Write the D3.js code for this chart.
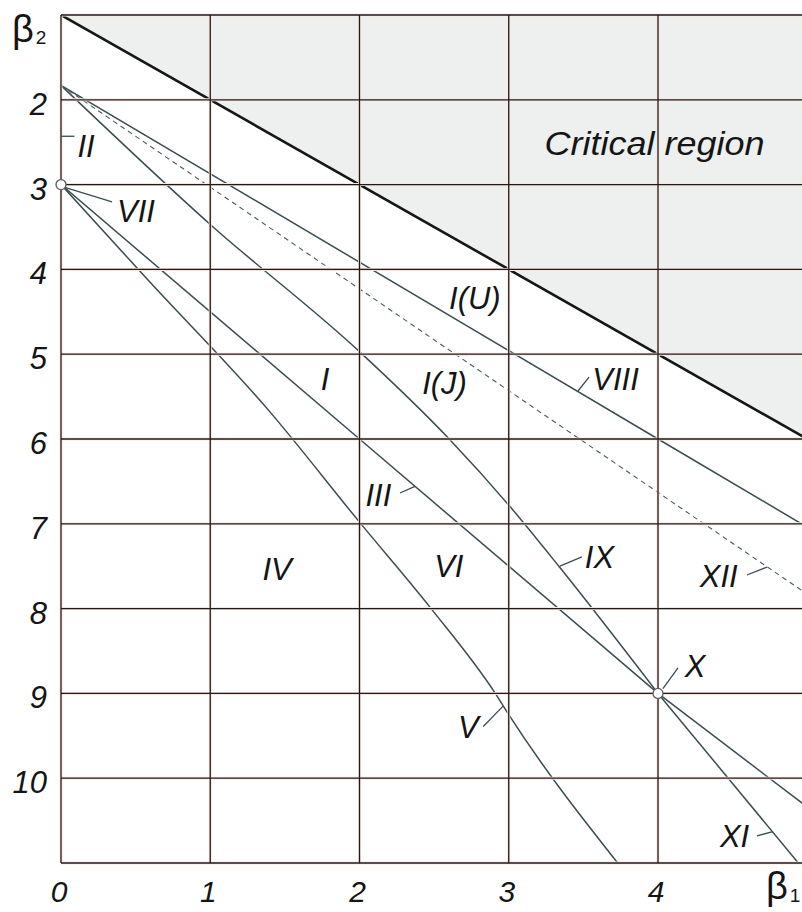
<!DOCTYPE html>
<html><head><meta charset="utf-8">
<script src="https://cdn.jsdelivr.net/npm/d3@7"></script>
<style>
html,body{margin:0;padding:0;background:#fff;}
svg{display:block;}
text{font-family:"Liberation Sans",Arial,sans-serif;}
</style></head>
<body>
<svg id="chart" width="802" height="912"></svg>
<script>
// ---- data (beta1, beta2) ----
const xTicks = [0, 1, 2, 3, 4];
const yTicks = [2, 3, 4, 5, 6, 7, 8, 9, 10];
const criticalLine = [[0, 1], [5, 6]];
const lineIII = [[0, 3], [2, 6], [4, 9], [5, 10.34]];
const lineV = [[0, 3], [0.58, 4.12], [1.4, 5.68], [2, 6.98], [2.48, 8], [2.91, 9], [3, 9.25], [3.73, 11]];
const lineVIII = [[0, 1.83], [4, 6], [5, 7.04]];
const lineXII = [[0, 1.83], [3, 5.43], [4, 6.63], [5, 7.83]];
const lineIX = [[0, 1.83], [1, 3.47], [2, 4.97], [2.59, 5.98], [3.01, 6.8], [3.34, 7.51], [4, 9]];
const lineXI = [[4, 9], [4.94, 11]];
const points = [[0, 3], [4, 9]];
const labels = [
  {t: "II", x: 0.11, y: 2.67},
  {t: "VII", x: 0.375, y: 3.44},
  {t: "I(U)", x: 2.60, y: 4.47},
  {t: "I", x: 1.74, y: 5.42},
  {t: "I(J)", x: 2.42, y: 5.47},
  {t: "III", x: 2.04, y: 6.79},
  {t: "IV", x: 1.35, y: 7.66},
  {t: "VI", x: 2.50, y: 7.63},
  {t: "VIII", x: 3.56, y: 5.42},
  {t: "IX", x: 3.51, y: 7.52},
  {t: "XII", x: 4.28, y: 7.745},
  {t: "X", x: 4.18, y: 8.81},
  {t: "XI", x: 4.415, y: 10.81},
  {t: "V", x: 2.66, y: 9.53}
];
const leaders = [
  [[0.0, 2.43], [0.09, 2.43]],
  [[0.02, 3.03], [0.342, 3.205]],
  [[2.271, 6.637], [2.372, 6.558]],
  [[3.464, 5.434], [3.538, 5.27]],
  [[3.343, 7.50], [3.49, 7.39]],
  [[4.596, 7.604], [4.73, 7.51]],
  [[4.033, 8.943], [4.134, 8.70]],
  [[4.663, 10.68], [4.77, 10.63]],
  [[2.829, 9.39], [2.962, 9.15]]
];

const W = 802, H = 912;
const x = d3.scaleLinear().domain([0, 5]).range([61, 61 + 5 * 149.25]);
const y = d3.scaleLinear().domain([1, 11]).range([15, 863]);
const svg = d3.select("#chart");
svg.append("rect").attr("width", W).attr("height", H).attr("fill", "#fff");

svg.append("clipPath").attr("id", "plotclip").append("rect")
  .attr("x", x(0)).attr("y", y(1)).attr("width", W - x(0)).attr("height", y(11) - y(1));
const plot = svg.append("g").attr("clip-path", "url(#plotclip)");

// critical region shading
plot.append("path")
  .attr("d", d3.line().x(d => x(d[0])).y(d => y(d[1]))([[0, 1], [5, 6], [5, 1]]))
  .attr("fill", "#eeefef");

// grid
const vGrid = [0, 1, 2, 3, 4];
const hGrid = [1, 2, 3, 4, 5, 6, 7, 8, 9, 10, 11];
const grid = svg.append("g");
[["#f9e6de", 3.0], ["#1f1b1b", 1.3]].forEach(([c, w]) => {
  grid.selectAll(null).data(vGrid).join("line")
    .attr("x1", d => x(d)).attr("x2", d => x(d)).attr("y1", y(1)).attr("y2", y(11))
    .attr("stroke", c).attr("stroke-width", w);
  grid.selectAll(null).data(hGrid).join("line")
    .attr("x1", x(0)).attr("x2", W).attr("y1", d => y(d)).attr("y2", d => y(d))
    .attr("stroke", c).attr("stroke-width", w);
});

// curves
const lin = d3.line().x(d => x(d[0])).y(d => y(d[1]));
const smooth = d3.line().x(d => x(d[0])).y(d => y(d[1])).curve(d3.curveMonotoneX);
const curveColor = "#3a4d52";
[[lineIII, lin], [lineVIII, lin], [lineXI, lin], [lineV, smooth], [lineIX, smooth]].forEach(([data, gen]) => {
  plot.append("path").attr("d", gen(data)).attr("fill", "none")
    .attr("stroke", curveColor).attr("stroke-width", 1.5);
});
plot.append("path").attr("d", lin(lineXII)).attr("fill", "none")
  .attr("stroke", "#4a5a60").attr("stroke-width", 1.1).attr("stroke-dasharray", "5,4");
plot.append("path").attr("d", lin(criticalLine)).attr("fill", "none")
  .attr("stroke", "#161616").attr("stroke-width", 2.6);

// leaders
svg.append("g").selectAll("path").data(leaders).join("path")
  .attr("d", d => lin(d)).attr("stroke", curveColor).attr("stroke-width", 1.3).attr("fill", "none");

// special points
svg.append("g").selectAll("circle").data(points).join("circle")
  .attr("cx", d => x(d[0])).attr("cy", d => y(d[1])).attr("r", 5)
  .attr("fill", "#fff").attr("stroke", "#5a5a5a").attr("stroke-width", 1.3);

// region labels
svg.append("g").selectAll("text").data(labels).join("text")
  .attr("x", d => x(d.x)).attr("y", d => y(d.y))
  .attr("font-size", 31).attr("font-style", "italic").attr("fill", "#151515")
  .text(d => d.t);

svg.append("text").attr("x", x(3.24)).attr("y", y(2.65))
  .attr("font-size", 34).attr("font-style", "italic").attr("fill", "#151515")
  .attr("textLength", 220).attr("lengthAdjust", "spacingAndGlyphs")
  .text("Critical region");

// tick labels
svg.append("g").selectAll("text").data(yTicks).join("text")
  .attr("x", 47).attr("y", d => y(d) + 15)
  .attr("text-anchor", "end").attr("font-size", 31).attr("font-style", "italic").attr("fill", "#151515")
  .text(d => d);
svg.append("g").selectAll("text").data(xTicks).join("text")
  .attr("x", d => x(d) - 2).attr("y", 902)
  .attr("text-anchor", "middle").attr("font-size", 30).attr("font-style", "italic").attr("fill", "#151515")
  .text(d => d);

// axis titles
const t2 = svg.append("text").attr("x", 12).attr("y", 42).attr("fill", "#151515");
t2.append("tspan").attr("font-size", 38).text("β");
t2.append("tspan").attr("font-size", 19).attr("dy", 2).attr("dx", 2).text("2");
const t1 = svg.append("text").attr("x", 766).attr("y", 899).attr("fill", "#151515");
t1.append("tspan").attr("font-size", 38).text("β");
t1.append("tspan").attr("font-size", 19).attr("dy", 3).attr("dx", 2).text("1");
</script>
</body></html>
